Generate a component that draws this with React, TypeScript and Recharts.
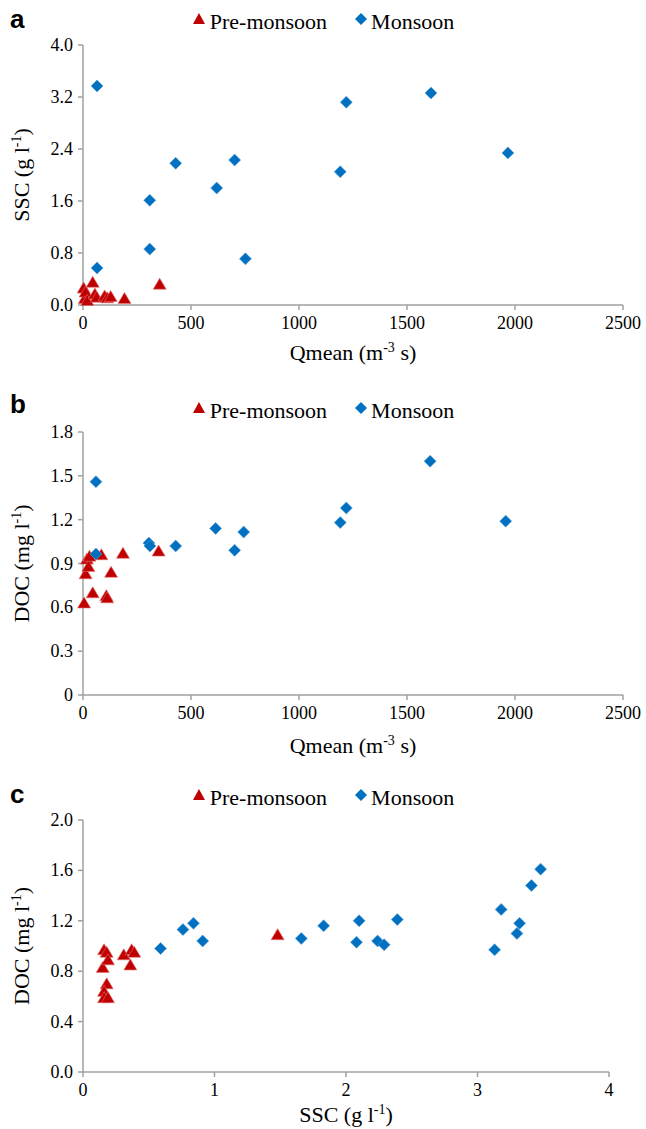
import { ScatterChart, Scatter, XAxis, YAxis, Legend } from 'recharts'

const RED = '#c00000'
const BLUE = '#0070c0'
const AXIS = '#a0a0a0'
const SERIF = 'Liberation Serif'

// panel a: SSC vs Qmean
const aPreQ = [3, 8, 12, 20, 45, 55, 63, 100, 112, 128, 192, 355]
const aPreSSC = [0.26, 0.1, 0.2, 0.07, 0.35, 0.17, 0.12, 0.14, 0.11, 0.13, 0.1, 0.32]
const aMonQ = [65, 65, 309, 309, 429, 619, 702, 752, 1191, 1219, 1611, 1967]
const aMonSSC = [3.37, 0.57, 1.61, 0.86, 2.18, 1.8, 2.23, 0.71, 2.05, 3.12, 3.26, 2.34]

// panel b: DOC vs Qmean
const bPreQ = [5, 12, 18, 25, 30, 45, 85, 108, 112, 130, 185, 350]
const bPreDOC = [0.63, 0.83, 0.93, 0.88, 0.95, 0.7, 0.96, 0.68, 0.665, 0.84, 0.97, 0.985]
const bMonQ = [60, 60, 305, 310, 429, 614, 702, 744, 1191, 1219, 1607, 1957]
const bMonDOC = [1.46, 0.965, 1.04, 1.02, 1.02, 1.14, 0.99, 1.115, 1.18, 1.28, 1.6, 1.19]

// panel c: DOC vs SSC
const cPreSSC = [0.16, 0.18, 0.15, 0.19, 0.18, 0.16, 0.16, 0.19, 0.31, 0.37, 0.39, 0.36, 1.48]
const cPreDOC = [0.97, 0.95, 0.83, 0.89, 0.7, 0.64, 0.59, 0.59, 0.93, 0.97, 0.95, 0.85, 1.09]
const cMonSSC = [0.59, 0.76, 0.84, 0.91, 1.66, 1.83, 2.08, 2.1, 2.24, 2.29, 2.39, 3.13, 3.18, 3.3, 3.32, 3.41, 3.48]
const cMonDOC = [0.98, 1.13, 1.18, 1.04, 1.06, 1.16, 1.03, 1.2, 1.04, 1.01, 1.21, 0.97, 1.29, 1.1, 1.18, 1.48, 1.61]

const qTicks = [0, 500, 1000, 1500, 2000, 2500]
const sscYTicks = [0, 0.8, 1.6, 2.4, 3.2, 4.0]
const docQTicks = [0, 0.3, 0.6, 0.9, 1.2, 1.5, 1.8]
const docSTicks = [0, 0.4, 0.8, 1.2, 1.6, 2.0]
const sscXTicks = [0, 1, 2, 3, 4]

const seriesOrder = ['Pre-monsoon', 'Monsoon']

const toPts = (xs: number[], ys: number[]) => xs.map((x, i) => ({ x, y: ys[i] }))

const Triangle = (p: any) => (
  <path
    d={`M${p.cx},${p.cy - 6} L${p.cx + 6.5},${p.cy + 5} L${p.cx - 6.5},${p.cy + 5} Z`}
    fill={RED}
    stroke="#e07070"
    strokeWidth={0.6}
  />
)

const Diamond = (p: any) => (
  <path
    d={`M${p.cx},${p.cy - 6} L${p.cx + 6},${p.cy} L${p.cx},${p.cy + 6} L${p.cx - 6},${p.cy} Z`}
    fill={BLUE}
    stroke="#5aa0d8"
    strokeWidth={0.6}
  />
)

// ticks drawn by hand so the serif font sticks
function XTick({ x, y, payload }: any) {
  return (
    <text x={x} y={y + 19} textAnchor="middle" fontFamily={SERIF} style={{ fontFamily: SERIF }} fontSize={18} fill="#000">
      {payload.value}
    </text>
  )
}

function makeYTick(fmt: (v: number) => string) {
  return ({ x, y, payload }: any) => (
    <text x={x} y={y + 6} textAnchor="end" fontFamily={SERIF} style={{ fontFamily: SERIF }} fontSize={18} fill="#000">
      {fmt(payload.value)}
    </text>
  )
}

function YTitle({ viewBox, main, sup, tail }: any) {
  const cx = 29
  const cy = viewBox.y + viewBox.height / 2
  return (
    <text
      x={cx}
      y={cy}
      transform={`rotate(-90, ${cx}, ${cy})`}
      textAnchor="middle"
      fontFamily={SERIF}
      style={{ fontFamily: SERIF }}
      fontSize={22}
      fill="#000"
    >
      {main}
      <tspan dy={-8} fontSize={14}>{sup}</tspan>
      <tspan dy={8}>{tail}</tspan>
    </text>
  )
}

function XTitle({ viewBox, main, sup, tail, dy }: any) {
  const cx = viewBox.x + viewBox.width / 2
  const y = viewBox.y + dy
  return (
    <text x={cx} y={y} textAnchor="middle" fontFamily={SERIF} style={{ fontFamily: SERIF }} fontSize={22} fill="#000">
      {main}
      <tspan dy={-8} fontSize={14}>{sup}</tspan>
      <tspan dy={8}>{tail}</tspan>
    </text>
  )
}

function LegendBox({ payload }: any) {
  const items = [...(payload || [])].sort(
    (a: any, b: any) => seriesOrder.indexOf(a.value) - seriesOrder.indexOf(b.value),
  )
  return (
    <div
      style={{
        display: 'flex',
        justifyContent: 'center',
        gap: 26,
        fontFamily: SERIF,
        fontSize: 22,
        lineHeight: '30px',
        height: 30,
        color: '#000',
      }}
    >
      {items.map((entry: any) => (
        <span key={entry.value} style={{ display: 'flex', alignItems: 'center', fontFamily: SERIF }}>
          <svg width={16} height={14} style={{ marginRight: 2, marginTop: -6 }}>
            {entry.value === 'Pre-monsoon' ? (
              <path d="M7,1 L13,12 L1,12 Z" fill={RED} />
            ) : (
              <path d="M8,1 L14,7 L8,13 L2,7 Z" fill={BLUE} />
            )}
          </svg>
          {entry.value}
        </span>
      ))}
    </div>
  )
}

interface PanelProps {
  top: number
  height: number
  margin: { top: number; right: number; bottom: number; left: number }
  legendTop: number
  pre: { x: number; y: number }[]
  mon: { x: number; y: number }[]
  xDomain: [number, number]
  xTicks: number[]
  yDomain: [number, number]
  yTicks: number[]
  yFormat: (v: number) => string
  xTitle: [string, string, string]
  xTitleDy: number
  yTitle: [string, string, string]
}

function Panel(props: PanelProps) {
  const YTick = makeYTick(props.yFormat)
  return (
    <div style={{ position: 'absolute', left: 0, top: props.top }}>
      <ScatterChart width={646} height={props.height} margin={props.margin}>
        <XAxis
          type="number"
          dataKey="x"
          domain={props.xDomain}
          ticks={props.xTicks}
          height={50}
          tick={<XTick />}
          tickSize={5}
          tickMargin={0}
          axisLine={{ stroke: AXIS, strokeWidth: 1.5 }}
          tickLine={{ stroke: AXIS, strokeWidth: 1.5 }}
          label={<XTitle main={props.xTitle[0]} sup={props.xTitle[1]} tail={props.xTitle[2]} dy={props.xTitleDy} />}
        />
        <YAxis
          type="number"
          dataKey="y"
          domain={props.yDomain}
          ticks={props.yTicks}
          width={83}
          tick={<YTick />}
          tickSize={5}
          tickMargin={5}
          axisLine={{ stroke: AXIS, strokeWidth: 1.5 }}
          tickLine={{ stroke: AXIS, strokeWidth: 1.5 }}
          label={<YTitle main={props.yTitle[0]} sup={props.yTitle[1]} tail={props.yTitle[2]} />}
        />
        <Legend
          verticalAlign="middle"
          align="center"
          layout="horizontal"
          wrapperStyle={{ top: props.legendTop, left: 0, width: 646, height: 30 }}
          content={<LegendBox />}
        />
        <Scatter name="Pre-monsoon" data={props.pre} legendType="triangle" fill={RED} shape={Triangle} isAnimationActive={false} />
        <Scatter name="Monsoon" data={props.mon} legendType="diamond" fill={BLUE} shape={Diamond} isAnimationActive={false} />
      </ScatterChart>
    </div>
  )
}

const letterStyle = {
  position: 'absolute' as const,
  left: 10,
  fontFamily: '"Liberation Sans", Arial, sans-serif',
  fontWeight: 700,
  fontSize: 26,
  lineHeight: '26px',
}

export default function App() {
  return (
    <div style={{ position: 'absolute', left: 0, top: 0, width: 646, height: 1129, background: '#fff' }}>
      <Panel
        top={0}
        height={375}
        margin={{ top: 45, right: 23, bottom: 20, left: 0 }}
        legendTop={7}
        pre={toPts(aPreQ, aPreSSC)}
        mon={toPts(aMonQ, aMonSSC)}
        xDomain={[0, 2500]}
        xTicks={qTicks}
        yDomain={[0, 4]}
        yTicks={sscYTicks}
        yFormat={(v) => v.toFixed(1)}
        xTitle={['Qmean (m', '-3', ' s)']}
        xTitleDy={55}
        yTitle={['SSC (g l', '-1', ')']}
      />
      <Panel
        top={375}
        height={385}
        margin={{ top: 57, right: 23, bottom: 15, left: 0 }}
        legendTop={21}
        pre={toPts(bPreQ, bPreDOC)}
        mon={toPts(bMonQ, bMonDOC)}
        xDomain={[0, 2500]}
        xTicks={qTicks}
        yDomain={[0, 1.8]}
        yTicks={docQTicks}
        yFormat={(v) => (v === 0 ? '0' : v.toFixed(1))}
        xTitle={['Qmean (m', '-3', ' s)']}
        xTitleDy={58}
        yTitle={['DOC (mg l', '-1', ')']}
      />
      <Panel
        top={760}
        height={369}
        margin={{ top: 60, right: 37, bottom: 7, left: 0 }}
        legendTop={23}
        pre={toPts(cPreSSC, cPreDOC)}
        mon={toPts(cMonSSC, cMonDOC)}
        xDomain={[0, 4]}
        xTicks={sscXTicks}
        yDomain={[0, 2]}
        yTicks={docSTicks}
        yFormat={(v) => v.toFixed(1)}
        xTitle={['SSC (g l', '-1', ')']}
        xTitleDy={50}
        yTitle={['DOC (mg l', '-1', ')']}
      />
      <div style={{ ...letterStyle, top: 6 }}>a</div>
      <div style={{ ...letterStyle, top: 391 }}>b</div>
      <div style={{ ...letterStyle, top: 781 }}>c</div>
    </div>
  )
}
